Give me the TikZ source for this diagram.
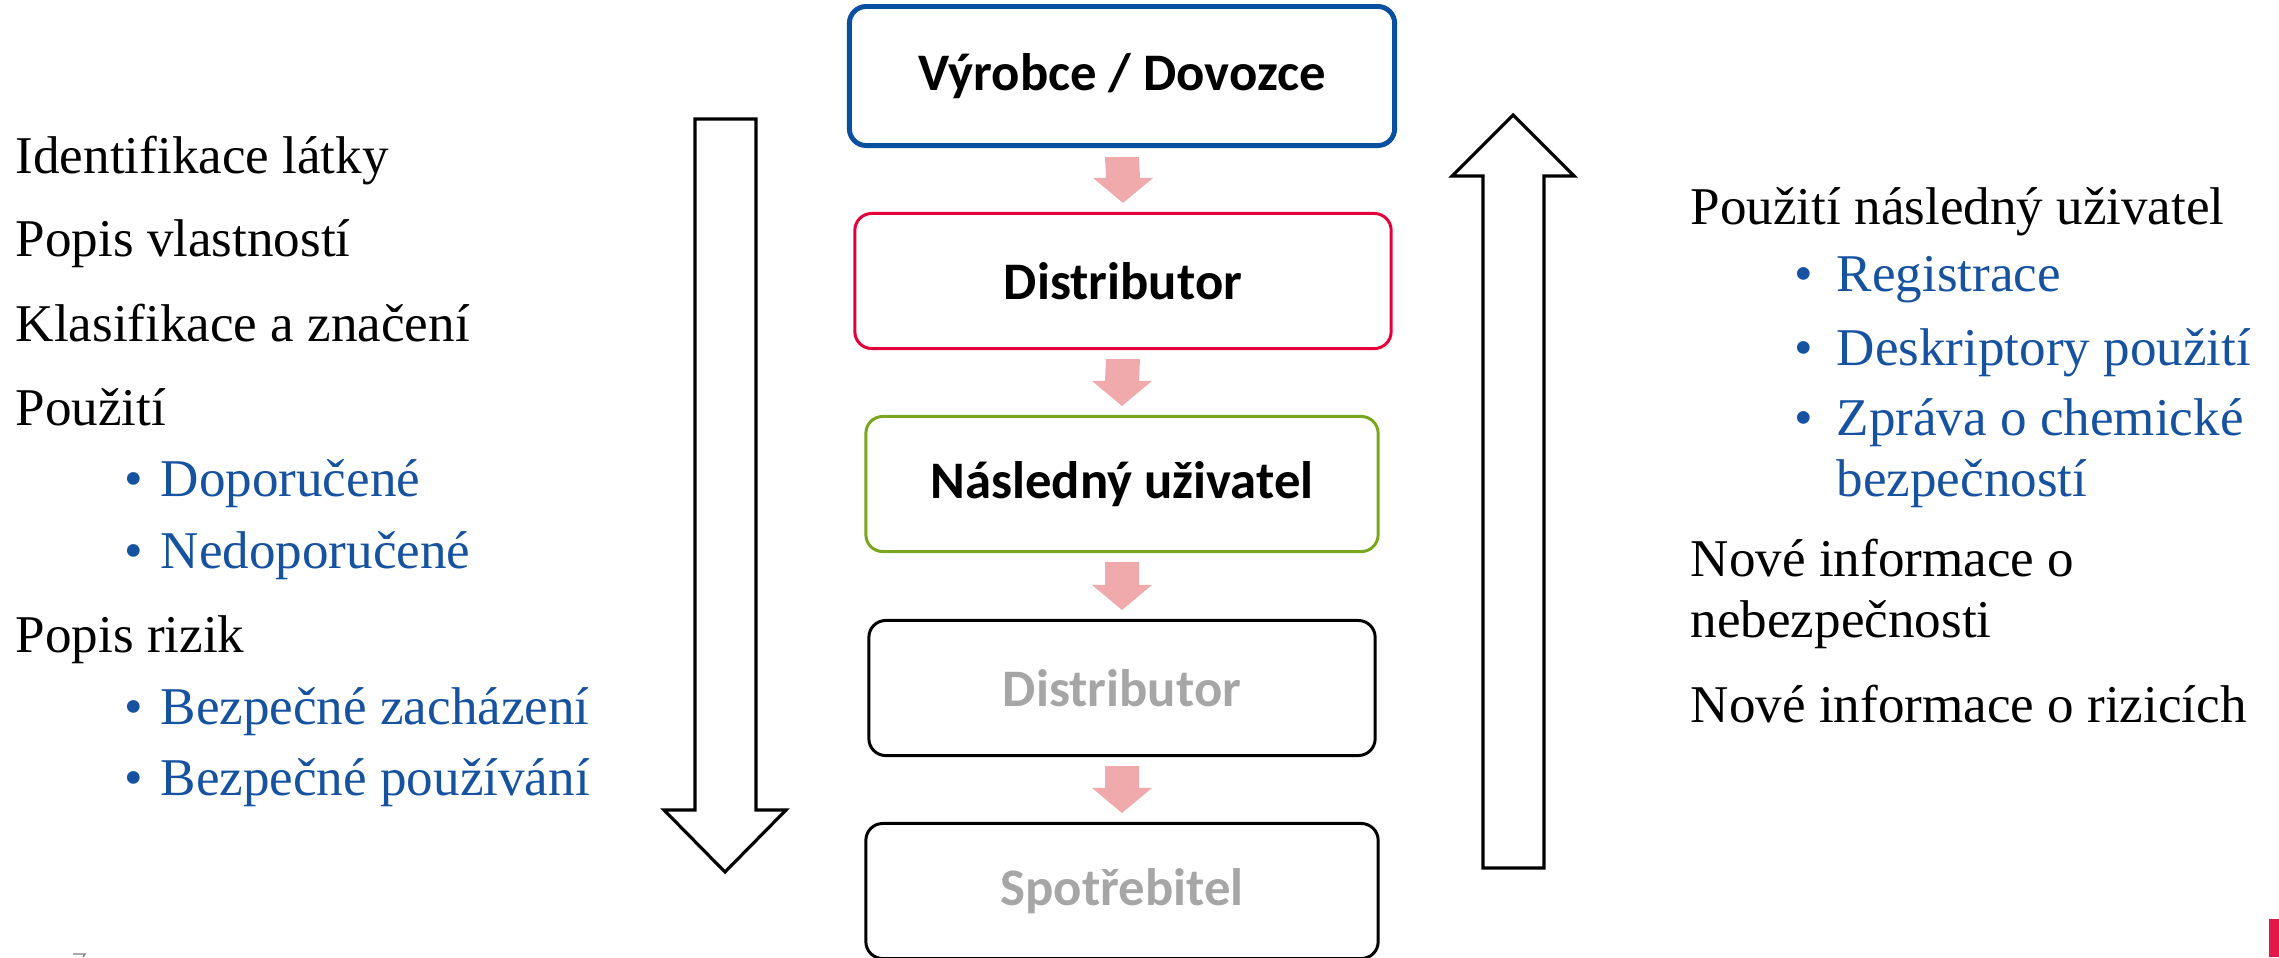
\documentclass[tikz,border=0pt]{standalone}
\usepackage{fontspec}
\setmainfont{Liberation Serif}
\newfontfamily\boxfont{Carlito}
\usetikzlibrary{calc}
\definecolor{boxblue}{RGB}{10,80,160}
\definecolor{boxred}{RGB}{228,0,58}
\definecolor{boxgreen}{RGB}{122,166,30}
\definecolor{textblue}{RGB}{22,82,160}
\definecolor{textgray}{RGB}{166,166,166}
\definecolor{arrowpink}{RGB}{240,170,172}
\definecolor{logored}{RGB}{228,23,73}
\tikzset{
  stage/.style={draw, rounded corners=4.8pt, line width=0.85pt, inner sep=0pt,
    minimum height=1.35cm, font=\boxfont\bfseries\fontsize{15}{18}\selectfont},
  bigarrow/.style={draw, line width=0.9pt, line join=miter},
  pinkarrow/.style={fill=arrowpink},
  txt/.style={anchor=base west, inner sep=0pt, font=\fontsize{15.1}{18}\selectfont},
  bluetxt/.style={txt, text=textblue}
}

\begin{document}
\begin{tikzpicture}[x=0.01cm, y=-0.01cm]
        \useasboundingbox (0,0) rectangle (2279,957);
        \node[stage, draw=boxblue, line width=1.4pt, minimum width=5.45cm, minimum height=1.39cm] (vyrobce) at (1122,76) {Výrobce / Dovozce};
        \node[stage, draw=boxred, minimum width=5.36cm] (distr) at (1123,281) {Distributor};
        \node[stage, draw=boxgreen, minimum width=5.12cm] (uzivatel) at (1122,484) {Následný uživatel};
        \node[stage, text=textgray, minimum width=5.06cm] (distrb) at (1122,688) {Distributor};
        \node[stage, text=textgray, minimum width=5.12cm] (spotr) at (1122,891) {Spotřebitel};
        \foreach \src/\dst in {vyrobce/distr, distr/uzivatel, uzivatel/distrb, distrb/spotr} {
          \fill[pinkarrow] ($(\src.south)+(-17,9)$) -- ($(\src.south)+(17,9)$)
            -- ($(\dst.north)+(17,-34)$) -- ($(\dst.north)+(30,-34)$) -- ($(\dst.north)+(0,-9)$)
            -- ($(\dst.north)+(-30,-34)$) -- ($(\dst.north)+(-17,-34)$) -- cycle;
        }
        \draw[bigarrow] (695,119) -- (756,119) -- (756,810) -- (786,810) -- (725,872) -- (664,810) -- (695,810) -- cycle;
        \draw[bigarrow] (1483,868) -- (1544,868) -- (1544,176) -- (1574,176) -- (1513,115) -- (1452,176) -- (1483,176) -- cycle;
        \foreach \y/\t in {173/Identifikace látky, 256/Popis vlastností, 341/Klasifikace a značení,
          425/Použití, 652/Popis rizik} {
          \node[txt] (left\y) at (15,\y) {\t};
        }
        \foreach \y/\t in {496/Doporučené, 568/Nedoporučené, 724/Bezpečné zacházení, 795/Bezpečné používání} {
          \node[bluetxt] (bl\y) at (124,\y) {\textbullet};
          \node[bluetxt] (lb\y) at (160,\y) {\t};
        }
        \foreach \y/\t in {224/Použití následný uživatel, 576/Nové informace o, 637/nebezpečnosti,
          722/Nové informace o rizicích} {
          \node[txt] (right\y) at (1690,\y) {\t};
        }
        \foreach \y/\t in {291/Registrace, 365/Deskriptory použití, 435/Zpráva o chemické} {
          \node[bluetxt] (br\y) at (1794,\y) {\textbullet};
          \node[bluetxt] (rb\y) at (1836,\y) {\t};
        }
        \node[bluetxt] (rb496) at (1836,496) {bezpečností};
        \fill[logored] (2269,919) rectangle (2279,957);
        \draw[gray, line width=0.4pt] (73,954) -- (85,954) -- (83,957);
      \end{tikzpicture}
\end{document}
